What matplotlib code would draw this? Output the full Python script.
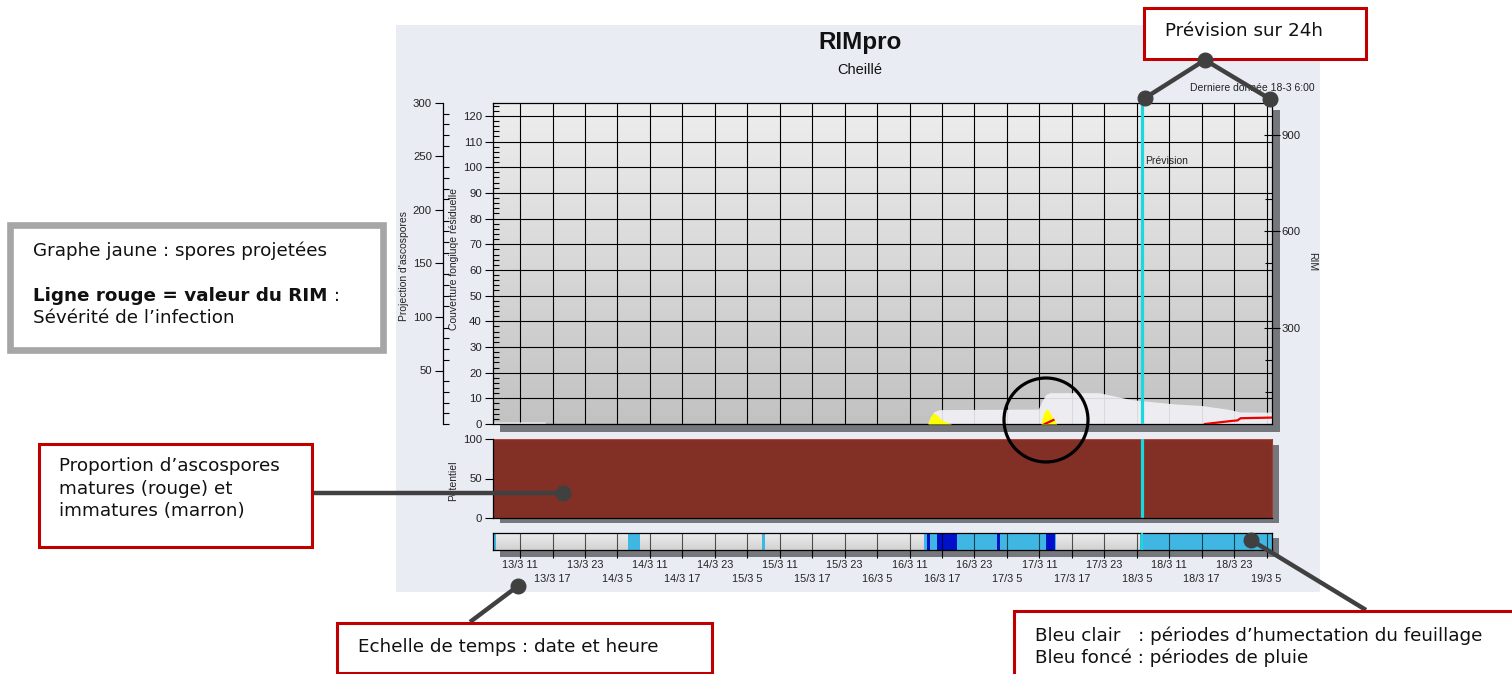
import numpy as np
import matplotlib
matplotlib.use('Agg')
import matplotlib.pyplot as plt
from matplotlib.patches import Rectangle, Circle
from matplotlib.ticker import MultipleLocator
from matplotlib.colors import LinearSegmentedColormap

W, H = 1512, 674

# ---------------- data ----------------
# time axis: hours since 13/3 06:00 (6 days shown)
x_min, x_max = 0, 144
forecast_start = 120  # "Derniere donnée 18-3 6:00"

tick_hours = [5, 11, 17, 23, 29, 35, 41, 47, 53, 59, 65, 71, 77, 83, 89, 95,
              101, 107, 113, 119, 125, 131, 137, 143]
time_labels = ["13/3 11", "13/3 17", "13/3 23", "14/3 5", "14/3 11", "14/3 17",
               "14/3 23", "15/3 5", "15/3 11", "15/3 17", "15/3 23", "16/3 5",
               "16/3 11", "16/3 17", "16/3 23", "17/3 5", "17/3 11", "17/3 17",
               "17/3 23", "18/3 5", "18/3 11", "18/3 17", "18/3 23", "19/3 5"]

# residual fungal coverage (white area, inner left axis 0-125)
cov_hours = [0, 9.6, 9.7, 80.3, 80.8, 81.5, 82.5, 100.8, 101.5, 102.2, 103,
             112, 118, 126, 131, 136, 138, 144]
cov_vals = [0.8, 0.8, 0, 0, 2.5, 4.8, 5.6, 5.8, 9, 11.5, 12.2,
            12.2, 9.5, 7.8, 7.2, 5.7, 4.7, 4.6]

# ascospore projection (yellow, outer left axis 0-300)
spore_hours = [80.4, 80.9, 81.4, 81.9, 82.7, 83.6, 84.8,
               101.3, 101.7, 102.2, 102.8, 103.3, 103.9, 104.2]
spore_vals = [0, 7, 10.5, 9, 5, 2, 0,
              0, 9, 14, 12, 7, 3, 0]

# RIM value (red line, right axis 0-1000)
rim1_hours = [102.0, 103.6]
rim1_vals = [0, 12.5]
rim2_hours = [131.6, 136.8, 137.6, 138.2, 144]
rim2_vals = [0, 10, 11, 18, 20]

# potential (immature ascospores, brown, 0-100)
pot_hours = [0, 144]
pot_immature = [100, 100]

# leaf wetness / rain periods (start, end) in hours
wet_periods = [(0, 0.5), (24.9, 27.1), (49.7, 50.2), (79.7, 104.0), (119.6, 144)]
rain_periods = [(80.2, 80.8), (82.1, 85.7), (93.1, 93.7), (102.2, 103.8)]

# ---------------- figure ----------------
fig = plt.figure(figsize=(W / 100, H / 100), dpi=100)
fig.patch.set_facecolor('white')
CF = 'Liberation Sans'
AF = 'DejaVu Sans'


def add_ax(l, t, r, b, **kw):
    return fig.add_axes([l / W, 1 - b / H, (r - l) / W, (b - t) / H], **kw)


# background layer
bg = fig.add_axes([0, 0, 1, 1], zorder=-10)
bg.set_xlim(0, W)
bg.set_ylim(H, 0)
bg.axis('off')
bg.add_patch(Rectangle((396, 25), 924, 567, color='#eaecf4', lw=0))
shadow = '#76777d'
for (x0, y0, x1, y1) in [(1272, 110, 1280, 432), (500, 424, 1280, 432),
                         (1272, 445, 1279, 523), (500, 518, 1279, 523),
                         (500, 550, 1279, 557), (1272, 538, 1279, 557)]:
    bg.add_patch(Rectangle((x0, y0), x1 - x0, y1 - y0, color=shadow, lw=0))

bg.text(860, 42, 'RIMpro', ha='center', va='center', fontsize=17.5,
        fontweight='bold', family=CF, color='#111')
bg.text(860, 70, 'Cheillé', ha='center', va='center', fontsize=10.5,
        family=CF, color='#111')
bg.text(1315, 88, 'Derniere donnée 18-3 6:00', ha='right', va='center',
        fontsize=7.5, family=CF, color='#222')
bg.text(404, 266, "Projection d'ascospores", rotation=90, ha='center',
        va='center', fontsize=7.5, family=CF, color='#222')
bg.text(454, 259, 'Couverture fongiuqe résiduelle', rotation=90, ha='center',
        va='center', fontsize=7.5, family=CF, color='#222')
bg.text(453, 481, 'Potentiel', rotation=90, ha='center', va='center',
        fontsize=7.5, family=CF, color='#222')
bg.text(1312, 262, 'RIM', rotation=270, ha='center', va='center',
        fontsize=7.5, family=CF, color='#222')

# ---- main plot ----
ax = add_ax(493, 103, 1272, 424)
grad = np.linspace(0, 1, 256).reshape(-1, 1)
cm_main = LinearSegmentedColormap.from_list('g', ['#c2c2c2', '#eeeeee'])
ax.imshow(grad, extent=[x_min, x_max, 0, 125], aspect='auto', cmap=cm_main,
          origin='lower', zorder=0)
ax.set_xlim(x_min, x_max)
ax.set_ylim(0, 125)
ax.set_axisbelow(True)
ax.set_xticks(tick_hours)
ax.tick_params(axis='x', length=0, labelbottom=False)
ax.set_yticks(range(0, 121, 10))
ax.yaxis.set_minor_locator(MultipleLocator(2))
ax.tick_params(axis='y', which='major', direction='out', length=6, width=0.8,
               labelsize=8.2, pad=2, labelcolor='#222')
ax.tick_params(axis='y', which='minor', direction='in', length=4, width=0.8)
for lab in ax.get_yticklabels():
    lab.set_family(CF)
ax.grid(True, color='black', lw=0.8)
for s in ax.spines.values():
    s.set_color('black')
    s.set_linewidth(0.9)
ax.fill_between(cov_hours, 0, cov_vals, color='#f2f2f7', alpha=0.9, lw=0,
                zorder=2)
ax.axvline(forecast_start, color='#19d8df', lw=2.3, zorder=5)

ax_sp = ax.twinx()
ax_sp.set_ylim(0, 300)
ax_sp.axis('off')
ax_sp.fill_between(spore_hours, 0, spore_vals, color='#ffff00', lw=0)
ax_sp.set_xlim(x_min, x_max)

ax_rim = ax.twinx()
ax_rim.set_ylim(0, 1000)
ax_rim.set_xlim(x_min, x_max)
ax_rim.set_yticks([300, 600, 900])
ax_rim.yaxis.set_minor_locator(MultipleLocator(100))
ax_rim.tick_params(axis='y', which='major', direction='inout', length=11,
                   width=0.8, labelsize=8.2, pad=1, labelcolor='#222')
ax_rim.tick_params(axis='y', which='minor', direction='in', length=5, width=0.8)
for lab in ax_rim.get_yticklabels():
    lab.set_family(CF)
ax_rim.plot(rim1_hours, rim1_vals, color='#ee0000', lw=1.6)
ax_rim.plot(rim2_hours, rim2_vals, color='#ee0000', lw=1.6)
for s in ax_rim.spines.values():
    s.set_visible(False)

# ---- outer axis (projection d'ascospores) ----
ax_out = add_ax(443, 103, 444, 424)
ax_out.patch.set_alpha(0)
ax_out.set_ylim(0, 300)
ax_out.set_xticks([])
ax_out.set_yticks(range(50, 301, 50))
ax_out.yaxis.set_minor_locator(MultipleLocator(10))
ax_out.tick_params(axis='y', which='major', direction='out', length=6,
                   width=0.8, labelsize=8.2, pad=2, labelcolor='#222')
ax_out.tick_params(axis='y', which='minor', direction='in', length=4.5, width=0.8)
for lab in ax_out.get_yticklabels():
    lab.set_family(CF)
for k in ['top', 'right', 'bottom']:
    ax_out.spines[k].set_visible(False)
ax_out.spines['left'].set_linewidth(0.9)

# ---- potentiel panel ----
ax_p = add_ax(493, 439, 1272, 518)
ax_p.set_xlim(x_min, x_max)
ax_p.set_ylim(0, 100)
ax_p.fill_between(pot_hours, 0, pot_immature, color='#823026',
                  edgecolor='#b5473a', lw=0.8)
ax_p.set_xticks([])
ax_p.set_yticks([0, 50, 100])
ax_p.tick_params(axis='y', direction='out', length=6, width=0.8,
                 labelsize=8.2, pad=2, labelcolor='#222')
for lab in ax_p.get_yticklabels():
    lab.set_family(CF)
ax_p.spines['top'].set_visible(False)
ax_p.spines['right'].set_color('#a33b2e')
ax_p.spines['left'].set_linewidth(0.9)
ax_p.spines['bottom'].set_linewidth(0.9)
ax_p.axvline(forecast_start, color='#19d8df', lw=2.3)

# ---- wetness bar ----
ax_w = add_ax(493, 533, 1272, 550)
cm_bar = LinearSegmentedColormap.from_list('b', ['#d2d2d2', '#eeeeee'])
ax_w.imshow(grad, extent=[x_min, x_max, 0, 1], aspect='auto', cmap=cm_bar,
            origin='lower', zorder=0)
ax_w.set_xlim(x_min, x_max)
ax_w.set_ylim(0, 1)
for (a, b) in wet_periods:
    ax_w.axvspan(a, b, color='#3fb7e2', lw=0, zorder=1)
for (a, b) in rain_periods:
    ax_w.axvspan(a, b, color='#0010c8', lw=0, zorder=2)
for h in tick_hours:
    ax_w.axvline(h, color='black', lw=0.8, alpha=0.65, zorder=3)
ax_w.axvline(forecast_start, color='#19d8df', lw=1.6, zorder=4)
ax_w.set_yticks([])
ax_w.set_xticks(tick_hours[0::2], labels=time_labels[0::2])
ax_w.set_xticks(tick_hours[1::2], labels=time_labels[1::2], minor=True)
ax_w.tick_params(axis='x', which='both', direction='out', length=6, width=0.8,
                 labelsize=7.8, labelcolor='#222')
ax_w.tick_params(axis='x', which='major', pad=1.5)
ax_w.tick_params(axis='x', which='minor', pad=11.5)
for lab in ax_w.get_xticklabels(which='both'):
    lab.set_family(CF)
for s in ax_w.spines.values():
    s.set_linewidth(0.9)

# ---------------- annotations overlay ----------------
ov = fig.add_axes([0, 0, 1, 1], zorder=20)
ov.set_xlim(0, W)
ov.set_ylim(H, 0)
ov.axis('off')
ov.patch.set_alpha(0)

ov.text(1145, 161, 'Prévision', ha='left', va='center', fontsize=7.5,
        family=CF, color='#222')

lc = '#404040'
connectors = [((312, 493), (563, 493)),
              ((470, 622), (518, 586)),
              ((1366, 610), (1251, 540)),
              ((1205, 60), (1145, 98)),
              ((1205, 60), (1270, 99))]
for (p0, p1) in connectors:
    ov.plot([p0[0], p1[0]], [p0[1], p1[1]], color=lc, lw=3.2,
            solid_capstyle='butt', zorder=1)
for (px, py) in [(563, 493), (518, 586), (1251, 540), (1205, 60),
                 (1145, 98), (1270, 99)]:
    ov.plot(px, py, 'o', color=lc, ms=10.5, zorder=5)

red = '#c00000'
ov.add_patch(Rectangle((10, 225), 373, 125, facecolor='white',
                       edgecolor='#a6a6a6', lw=4.8, zorder=2))
ov.add_patch(Rectangle((38.5, 443.5), 273, 103, facecolor='white',
                       edgecolor=red, lw=2.2, zorder=2))
ov.add_patch(Rectangle((337, 623), 375, 49.5, facecolor='white',
                       edgecolor=red, lw=2.2, zorder=2))
ov.add_patch(Rectangle((1013.5, 610.5), 520, 80, facecolor='white',
                       edgecolor=red, lw=2.2, zorder=2))
ov.add_patch(Rectangle((1144, 8), 222, 51, facecolor='white',
                       edgecolor=red, lw=2.2, zorder=2))
ov.add_patch(Circle((1046, 420), 42, fill=False, edgecolor='black', lw=2.3,
                    zorder=4))

fs = 13.2
tk = dict(ha='left', va='center', fontsize=fs, family=AF, color='#111', zorder=6)
ov.text(33, 251, 'Graphe jaune : spores projetées', **tk)
bold = ov.text(33, 296, 'Ligne rouge = valeur du RIM', fontweight='bold', **tk)
ov.annotate(' :', xy=(1, 0.5), xycoords=bold, ha='left', va='center',
            fontsize=fs, family=AF, color='#111', zorder=6)
ov.text(33, 318, 'Sévérité de l’infection', **tk)
ov.text(59, 466, 'Proportion d’ascospores', **tk)
ov.text(59, 489, 'matures (rouge) et', **tk)
ov.text(59, 511, 'immatures (marron)', **tk)
ov.text(358, 647, 'Echelle de temps : date et heure', **tk)
ov.text(1035, 636, 'Bleu clair   : périodes d’humectation du feuillage', **tk)
ov.text(1035, 658, 'Bleu foncé : périodes de pluie', **tk)
ov.text(1165, 31, 'Prévision sur 24h', **tk)

fig.savefig('out.png', dpi=100)
